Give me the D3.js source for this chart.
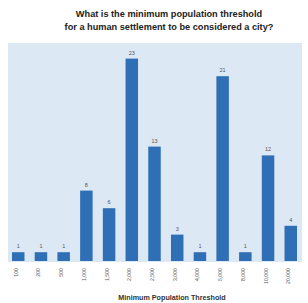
<!DOCTYPE html>
<html><head><meta charset="utf-8">
<script src="https://cdn.jsdelivr.net/npm/d3@7"></script>
<style>body{margin:0;background:#fff}svg{display:block}</style>
</head><body>
<script>
const categories = ["100","200","500","1,000","1,500","2,000","2,500","3,000","4,000","5,000","8,000","10,000","20,000"];
const counts = [1,1,1,8,6,23,13,3,1,21,1,12,4];
const titleLines = ["What is the minimum population threshold","for a human settlement to be considered a city?"];
const xTitle = "Minimum Population Threshold";

const W = 308, H = 303;
const svg = d3.select("body").append("svg").attr("width", W).attr("height", H);
const plot = {left: 7, right: 302, top: 43, bottom: 261};

svg.append("rect").attr("x", plot.left+1).attr("y", plot.top)
  .attr("width", plot.right - plot.left - 1).attr("height", plot.bottom - plot.top + 1)
  .attr("fill", "#dde8f5");

const x = d3.scaleBand().domain(categories).range([plot.left, plot.right]).paddingInner(0.45).paddingOuter(0.22);
const y = d3.scaleLinear().domain([0, 25]).range([plot.bottom, plot.bottom - 220]);

svg.selectAll("rect.bar").data(categories).join("rect").attr("class","bar")
  .attr("x", d => x(d)).attr("width", x.bandwidth())
  .attr("y", (d,i) => y(counts[i])).attr("height", (d,i) => y(0) - y(counts[i]))
  .attr("fill", "#2f6fb5");

svg.selectAll("text.val").data(categories).join("text").attr("class","val")
  .attr("x", d => x(d) + x.bandwidth()/2).attr("y", (d,i) => y(counts[i]) - 4)
  .attr("text-anchor","middle").attr("font-family","Liberation Sans, Arial, sans-serif")
  .attr("font-size", 5.5).attr("fill","#555").text((d,i) => counts[i]);

const ax = svg.append("g").attr("transform", `translate(0,${plot.bottom + 4})`)
  .call(d3.axisBottom(x).tickSize(0).tickPadding(3));
ax.select(".domain").remove();
ax.selectAll("text").attr("transform","rotate(-90)").attr("text-anchor","end")
  .attr("dx","-3").attr("dy","-0.1em").attr("y", 0).attr("x", 0)
  .attr("font-family","Liberation Sans, Arial, sans-serif").attr("font-size", 5.2).attr("fill","#555");

const t = svg.append("text").attr("x", 169).attr("y", 17).attr("text-anchor","middle")
  .attr("font-family","Liberation Sans, Arial, sans-serif").attr("font-weight","bold")
  .attr("font-size", 9.2).attr("fill","#222");
titleLines.forEach((l,i) => t.append("tspan").attr("x",169).attr("dy", i ? 12.5 : 0).text(l));

svg.append("text").attr("x", 172).attr("y", 300).attr("text-anchor","middle")
  .attr("font-family","Liberation Sans, Arial, sans-serif").attr("font-weight","bold")
  .attr("font-size", 7.2).attr("fill","#333").text(xTitle);
</script>
</body></html>
